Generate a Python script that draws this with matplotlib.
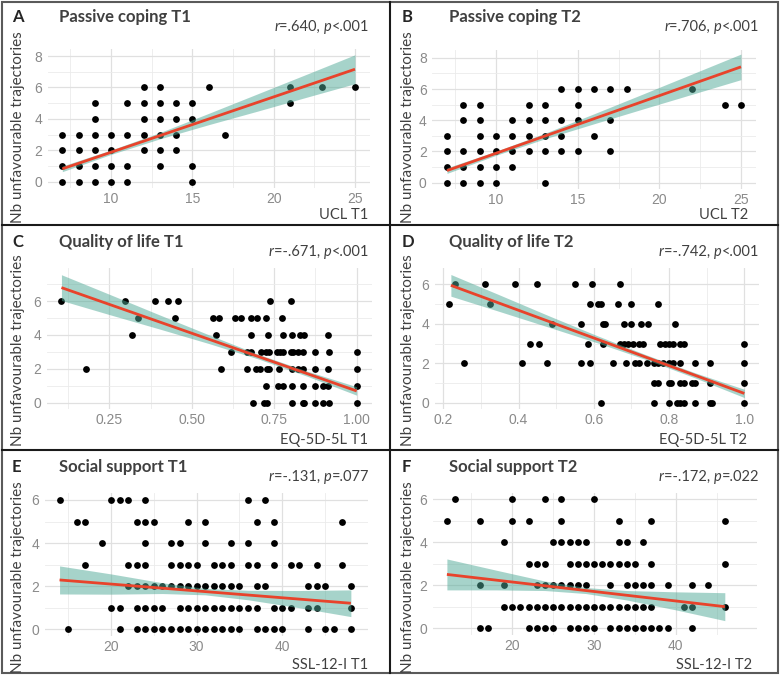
import numpy as np
import matplotlib.pyplot as plt
from matplotlib.patches import Rectangle
from matplotlib.lines import Line2D

W, H = 781, 675

# ---------- A: passive coping T1 ----------
a_x = [7, 8, 9, 10, 11, 15,
       7, 8, 9, 10, 11, 13, 15,
       7, 8, 9, 10, 12, 13, 14,
       7, 8, 9, 10, 11, 12, 13, 14, 17,
       9, 12, 13, 14, 15,
       9, 11, 12, 13, 14, 15, 21,
       12, 13, 16, 21, 23, 25]
a_y = [0] * 6 + [1] * 7 + [2] * 7 + [3] * 9 + [4] * 5 + [5] * 7 + [6] * 6
a_fit_x = [7, 25]
a_fit_y = [0.82, 7.16]
a_band_x = [7, 10, 13, 16, 19, 22, 25]
a_band_lo = [0.64, 1.74, 2.73, 3.63, 4.49, 5.37, 6.24]
a_band_hi = [1.00, 2.02, 3.13, 4.35, 5.59, 6.83, 8.08]

# ---------- B: passive coping T2 ----------
b_x = [7, 8, 9, 10, 13,
       7, 8, 9, 10, 11,
       7, 8, 9, 10, 11, 12, 13, 14, 15, 17,
       7, 9, 10, 11, 12, 13, 14, 16,
       8, 9, 11, 12, 13, 14, 15, 17,
       8, 9, 12, 13, 15, 24, 25,
       14, 15, 16, 17, 18, 22]
b_y = [0] * 5 + [1] * 5 + [2] * 10 + [3] * 8 + [4] * 8 + [5] * 7 + [6] * 6
b_fit_x = [7, 25]
b_fit_y = [0.77, 7.42]
b_band_x = [7, 10, 13, 16, 19, 22, 25]
b_band_lo = [0.59, 1.75, 2.81, 3.77, 4.72, 5.66, 6.60]
b_band_hi = [0.95, 2.01, 3.17, 4.41, 5.68, 6.96, 8.24]

# ---------- C: quality of life T1 ----------
c_x = [0.687, 0.719, 0.727, 0.805, 0.836, 0.84, 0.874, 0.897, 0.917, 1.0,
       0.724, 0.763, 0.778, 0.805, 0.836, 0.874, 0.897, 0.914, 1.0,
       0.18, 0.59, 0.667, 0.694, 0.707, 0.727, 0.735, 0.765, 0.805, 0.823,
       0.836, 0.874, 0.914, 1.0,
       0.618, 0.667, 0.68, 0.71, 0.724, 0.735, 0.758, 0.768, 0.776, 0.80,
       0.808, 0.823, 0.836, 0.874, 0.917, 1.0,
       0.32, 0.574, 0.68, 0.73, 0.776, 0.805, 0.828, 0.84, 0.912,
       0.336, 0.449, 0.565, 0.583, 0.631, 0.649, 0.68, 0.699, 0.724, 0.775,
       0.105, 0.298, 0.389, 0.427, 0.459, 0.737, 0.80]
c_y = [0] * 10 + [1] * 9 + [2] * 14 + [3] * 16 + [4] * 9 + [5] * 10 + [6] * 7
c_fit_x = [0.105, 1.0]
c_fit_y = [6.79, 0.69]
c_band_x = [0.105, 0.25, 0.4, 0.55, 0.7, 0.85, 1.0]
c_band_lo = [6.03, 5.20, 4.36, 3.50, 2.59, 1.56, 0.44]
c_band_hi = [7.55, 6.40, 5.20, 4.02, 2.87, 1.86, 0.94]

# ---------- D: quality of life T2 ----------
d_x = [0.62, 0.76, 0.80, 0.82, 0.83, 0.84, 0.87, 0.91, 0.915, 1.0,
       0.76, 0.77, 0.80, 0.805, 0.83, 0.84, 0.86, 0.87, 0.91, 1.0,
       0.255, 0.41, 0.476, 0.565, 0.59, 0.65, 0.685, 0.71, 0.72, 0.74,
       0.76, 0.77, 0.785, 0.80, 0.81, 0.83, 0.87, 0.91, 1.0,
       0.43, 0.455, 0.585, 0.625, 0.67, 0.68, 0.69, 0.705, 0.72, 0.73,
       0.777, 0.79, 0.80, 0.81, 0.83, 0.84, 1.0,
       0.49, 0.565, 0.625, 0.63, 0.68, 0.70, 0.725, 0.745, 0.815,
       0.216, 0.325, 0.59, 0.61, 0.62, 0.665, 0.70, 0.77,
       0.23, 0.31, 0.39, 0.45, 0.55, 0.595, 0.67]
d_y = [0] * 10 + [1] * 10 + [2] * 19 + [3] * 17 + [4] * 9 + [5] * 8 + [6] * 7
d_fit_x = [0.22, 1.0]
d_fit_y = [5.95, 0.47]
d_band_x = [0.22, 0.35, 0.48, 0.61, 0.74, 0.87, 1.0]
d_band_lo = [5.40, 4.62, 3.83, 3.03, 2.18, 1.25, 0.26]
d_band_hi = [6.50, 5.46, 4.41, 3.39, 2.42, 1.51, 0.68]

# ---------- E: social support T1 ----------
e_x = [15, 21, 23, 24, 25, 26, 27, 28, 29, 30, 31, 32, 33, 34, 35, 37, 38,
       39, 40, 43, 45, 46, 48,
       20, 21, 23, 24, 25, 26, 28, 29, 30, 31, 32, 33, 34, 35, 36, 37, 39,
       40, 41, 43, 44, 48,
       22, 23, 24, 25, 26, 27, 28, 29, 30, 31, 32, 33, 34, 35, 37, 38, 43,
       44, 45, 48,
       17, 22, 23, 24, 27, 28, 29, 30, 32, 33, 34, 36, 37, 39, 41, 42, 44, 47,
       19, 24, 27, 28, 31, 34, 36, 39,
       16, 17, 23, 24, 25, 29, 31, 37, 39, 47,
       14, 20, 21, 22, 24, 36, 38]
e_y = [0] * 23 + [1] * 22 + [2] * 20 + [3] * 18 + [4] * 8 + [5] * 10 + [6] * 7
e_fit_x = [14, 48]
e_fit_y = [2.29, 1.21]
e_band_x = [14, 20, 26, 31, 36, 42, 48]
e_band_lo = [1.64, 1.63, 1.66, 1.60, 1.37, 1.00, 0.59]
e_band_hi = [2.94, 2.57, 2.16, 1.90, 1.81, 1.80, 1.83]

# ---------- F: social support T2 ----------
f_x = [16, 17, 22, 23, 24, 25, 27, 28, 29, 30, 32, 33, 34, 35, 36, 37, 38,
       39, 42,
       19, 20, 21, 22, 23, 24, 25, 26, 27, 28, 29, 30, 31, 32, 33, 34, 35,
       36, 37, 41, 42, 46,
       16, 19, 23, 24, 25, 26, 27, 28, 29, 32, 34, 35, 36, 37, 39, 42, 44,
       22, 23, 24, 27, 28, 29, 30, 31, 32, 33, 34, 35, 37, 46,
       19, 25, 26, 27, 28, 29, 33, 34, 36,
       12, 16, 20, 22, 26, 33, 37, 46,
       13, 20, 24, 26, 30]
f_y = [0] * 19 + [1] * 22 + [2] * 17 + [3] * 14 + [4] * 9 + [5] * 8 + [6] * 5
f_fit_x = [12, 46]
f_fit_y = [2.51, 1.01]
f_band_x = [12, 18, 24, 29, 34, 40, 46]
f_band_lo = [1.79, 1.79, 1.76, 1.62, 1.32, 0.86, 0.36]
f_band_hi = [3.23, 2.71, 2.20, 1.90, 1.76, 1.70, 1.66]

letters = ["A", "B", "C", "D", "E", "F"]
titles = ["Passive coping T1", "Passive coping T2", "Quality of life T1",
          "Quality of life T2", "Social support T1", "Social support T2"]
stats = [("r", "=.640, ", "p", "<.001"), ("r", "=.706, ", "p", "<.001"),
         ("r", "=-.671, ", "p", "<.001"), ("r", "=-.742, ", "p", "<.001"),
         ("r", "=-.131, ", "p", "=.077"), ("r", "=-.172, ", "p", "=.022")]
xlabels = ["UCL T1", "UCL T2", "EQ-5D-5L T1", "EQ-5D-5L T2",
           "SSL-12-I T1", "SSL-12-I T2"]
ylabel = "Nb unfavourable trajectories"

head_font = "Lato"
tick_font = "Liberation Sans"
txt_col = "#404040"


def fx(px):
    return px / W


def fy(py):
    return 1 - py / H


def panel(box, xlim, ylim, xmaj, xmin, xtl, ymaj, ymin,
          x, y, fit_x, fit_y, band_x, band_lo, band_hi):
    l, r, t, b = box
    ax = fig.add_axes([fx(l), fy(b), (r - l) / W, (b - t) / H])
    ax.set_xlim(*xlim)
    ax.set_ylim(*ylim)
    ax.set_xticks(xmaj)
    ax.set_xticklabels(xtl)
    ax.set_xticks(xmin, minor=True)
    ax.set_yticks(ymaj)
    ax.set_yticks(ymin, minor=True)
    ax.grid(which="major", color="#e0e0e0", lw=0.9)
    ax.grid(which="minor", color="#ebebeb", lw=0.6)
    ax.set_axisbelow(True)
    for s in ax.spines.values():
        s.set_visible(False)
    ax.tick_params(which="both", length=0, labelsize=10, labelcolor="#8a8a8a")
    ax.tick_params(axis="x", pad=3)
    ax.tick_params(axis="y", pad=4)
    for lab in ax.get_xticklabels() + ax.get_yticklabels():
        lab.set_fontfamily(tick_font)
    ax.scatter(x, y, s=24, color="black", lw=0, zorder=2)
    ax.fill_between(band_x, band_lo, band_hi, color="#4fa996", alpha=0.5,
                    lw=0, zorder=3)
    ax.plot(fit_x, fit_y, color="#e8432b", lw=2.0, zorder=4,
            solid_capstyle="butt")
    return ax


fig = plt.figure(figsize=(W / 100, H / 100), dpi=100)

int_ticks = [10, 15, 20, 25]
panel((47.7, 369.6, 48.5, 188), (6.1, 25.9), (-0.4, 8.48),
      int_ticks, [7.5, 12.5, 17.5, 22.5], [str(v) for v in int_ticks],
      [0, 2, 4, 6, 8], [1, 3, 5, 7],
      a_x, a_y, a_fit_x, a_fit_y, a_band_x, a_band_lo, a_band_hi)
panel((432.3, 755.7, 50, 189), (6.1, 25.9), (-0.41, 8.5),
      int_ticks, [7.5, 12.5, 17.5, 22.5], [str(v) for v in int_ticks],
      [0, 2, 4, 6, 8], [1, 3, 5, 7],
      b_x, b_y, b_fit_x, b_fit_y, b_band_x, b_band_lo, b_band_hi)
panel((46.6, 371.5, 268.3, 409.1), (0.06, 1.045), (-0.38, 7.93),
      [0.25, 0.5, 0.75, 1.0], [0.125, 0.375, 0.625, 0.875],
      ["0.25", "0.50", "0.75", "1.00"],
      [0, 2, 4, 6], [1, 3, 5, 7],
      c_x, c_y, c_fit_x, c_fit_y, c_band_x, c_band_lo, c_band_hi)
panel((434.7, 759, 268, 409.2), (0.177, 1.039), (-0.33, 6.83),
      [0.2, 0.4, 0.6, 0.8, 1.0], [0.3, 0.5, 0.7, 0.9],
      ["0.2", "0.4", "0.6", "0.8", "1.0"],
      [0, 2, 4, 6], [1, 3, 5],
      d_x, d_y, d_fit_x, d_fit_y, d_band_x, d_band_lo, d_band_hi)
panel((45, 368, 493.5, 635.8), (12.3, 50), (-0.3, 6.3),
      [20, 30, 40], [15, 25, 35, 45], ["20", "30", "40"],
      [0, 2, 4, 6], [1, 3, 5],
      e_x, e_y, e_fit_x, e_fit_y, e_band_x, e_band_lo, e_band_hi)
panel((433, 756.7, 493, 634.8), (10.3, 49.9), (-0.3, 6.3),
      [20, 30, 40], [15, 25, 35, 45], ["20", "30", "40"],
      [0, 2, 4, 6], [1, 3, 5],
      f_x, f_y, f_fit_x, f_fit_y, f_band_x, f_band_lo, f_band_hi)

# panel texts
cols = [0, 390, 0, 390, 0, 390]
rows = [0, 0, 225, 225, 450, 450]
xlab_right = [368, 748, 368, 747, 368, 752]
ylab_mid = [127, 127, 350, 350, 577, 577]
fig.canvas.draw()
for i in range(6):
    ox, oy = cols[i], rows[i]
    fig.text(fx(ox + 12), fy(oy + 17), letters[i], fontsize=12,
             fontweight="bold", family=head_font, color="#262626",
             va="center", ha="left")
    fig.text(fx(ox + 59), fy(oy + 17), titles[i], fontsize=12,
             fontweight="bold", family=head_font, color=txt_col,
             va="center", ha="left")
    # stats text, built right to left so r and p can be italic
    s = stats[i]
    italic = [True, False, True, False]
    right = fx(ox + 369)
    for part, it in zip(s[::-1], italic[::-1]):
        t = fig.text(right, fy(oy + 27), part, fontsize=10.5,
                     family=head_font, style="italic" if it else "normal",
                     color=txt_col, va="center", ha="right")
        right = t.get_window_extent(fig.canvas.get_renderer()).x0 / W
    fig.text(fx(xlab_right[i]), fy(oy + 215), xlabels[i], fontsize=10.5,
             family=head_font, color=txt_col, va="center", ha="right")
    fig.text(fx(ox + 18), fy(ylab_mid[i]), ylabel, fontsize=11,
             family=head_font, color=txt_col, va="center", ha="center",
             rotation=90)

# frame lines
fig.add_artist(Rectangle((fx(2), fy(673)), 776 / W, 671 / H,
                         transform=fig.transFigure, fill=False,
                         edgecolor="#5a5a5a", lw=1.5))
fig.add_artist(Line2D([fx(390), fx(390)], [fy(2), fy(673)],
                      transform=fig.transFigure, color="#1a1a1a", lw=1.5))
for yy in (224.5, 449.5):
    fig.add_artist(Line2D([fx(2), fx(778)], [fy(yy), fy(yy)],
                          transform=fig.transFigure, color="#1a1a1a", lw=1.5))

fig.savefig("out.png", dpi=100)
